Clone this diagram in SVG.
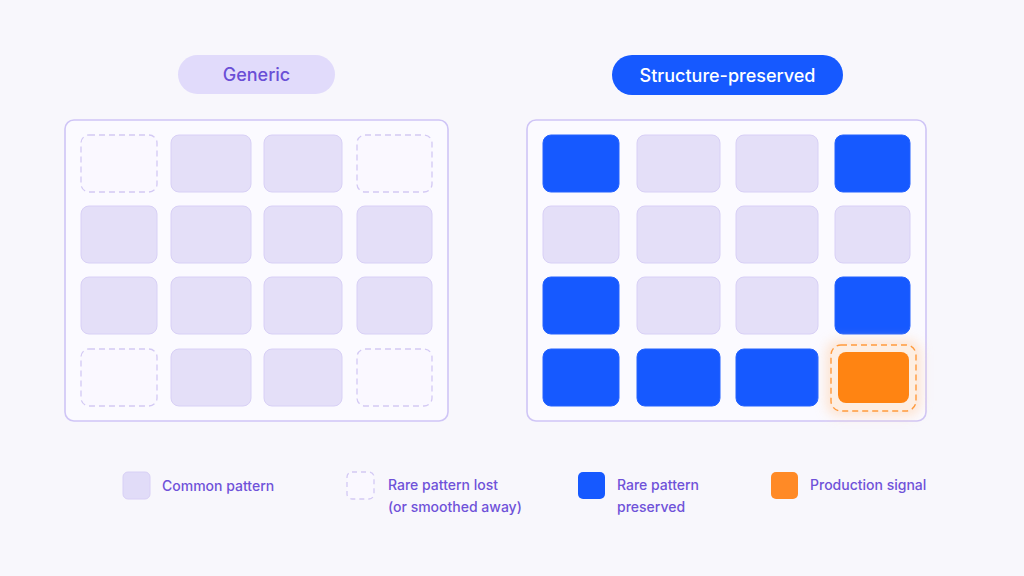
<svg xmlns="http://www.w3.org/2000/svg" width="1024" height="576" viewBox="0 0 1024 576">
<defs>
<style>
.panel{fill:#fbfaff;stroke:#cfc5f6;stroke-width:1.6}
.c{fill:#e4dff8;stroke:#d8d0f6;stroke-width:1}
.lost{fill:#faf8ff;stroke:#d3c9f4;stroke-width:1.3;stroke-dasharray:6 4}
.b{fill:#1659ff;stroke:#2462ff;stroke-width:1}
.t{font-family:Inter,"Liberation Sans",sans-serif;}
.lg{font-family:Inter,"Liberation Sans",sans-serif;font-size:14px;font-weight:500;fill:#6f52d9}
</style>
<filter id="glow" x="-50%" y="-50%" width="200%" height="200%"><feGaussianBlur stdDeviation="6"/></filter>
</defs>
<rect width="1024" height="576" fill="#f8f7fc"/>

<g id="pill-generic">
<rect x="178" y="55" width="157" height="39" rx="19.5" fill="#e1dbfb"/>
<text class="t" x="256.5" y="81" text-anchor="middle" font-size="18" font-weight="500" fill="#6a4fd6">Generic</text>
</g>
<g id="pill-structure">
<rect x="612" y="55" width="231" height="40" rx="20" fill="#1659ff"/>
<text class="t" x="727.5" y="82" text-anchor="middle" font-size="18" font-weight="500" fill="#ffffff">Structure-preserved</text>
</g>

<g id="panel-generic">
<rect class="panel" x="65" y="120" width="383" height="301" rx="9"/>
<rect class="lost" x="81" y="135" width="76" height="57" rx="8"/>
<rect class="c" x="171" y="135" width="80" height="57" rx="8"/>
<rect class="c" x="264" y="135" width="78" height="57" rx="8"/>
<rect class="lost" x="357" y="135" width="75" height="57" rx="8"/>
<rect class="c" x="81" y="206" width="76" height="57" rx="8"/>
<rect class="c" x="171" y="206" width="80" height="57" rx="8"/>
<rect class="c" x="264" y="206" width="78" height="57" rx="8"/>
<rect class="c" x="357" y="206" width="75" height="57" rx="8"/>
<rect class="c" x="81" y="277" width="76" height="57" rx="8"/>
<rect class="c" x="171" y="277" width="80" height="57" rx="8"/>
<rect class="c" x="264" y="277" width="78" height="57" rx="8"/>
<rect class="c" x="357" y="277" width="75" height="57" rx="8"/>
<rect class="lost" x="81" y="349" width="76" height="57" rx="8"/>
<rect class="c" x="171" y="349" width="80" height="57" rx="8"/>
<rect class="c" x="264" y="349" width="78" height="57" rx="8"/>
<rect class="lost" x="357" y="349" width="75" height="57" rx="8"/>
</g>

<g id="panel-structure">
<rect class="panel" x="527" y="120" width="399" height="301" rx="9"/>
<rect class="b" x="543" y="135" width="76" height="57" rx="8"/>
<rect class="c" x="637" y="135" width="83" height="57" rx="8"/>
<rect class="c" x="736" y="135" width="82" height="57" rx="8"/>
<rect class="b" x="835" y="135" width="75" height="57" rx="8"/>
<rect class="c" x="543" y="206" width="76" height="57" rx="8"/>
<rect class="c" x="637" y="206" width="83" height="57" rx="8"/>
<rect class="c" x="736" y="206" width="82" height="57" rx="8"/>
<rect class="c" x="835" y="206" width="75" height="57" rx="8"/>
<rect class="b" x="543" y="277" width="76" height="57" rx="8"/>
<rect class="c" x="637" y="277" width="83" height="57" rx="8"/>
<rect class="c" x="736" y="277" width="82" height="57" rx="8"/>
<rect class="b" x="835" y="277" width="75" height="57" rx="8"/>
<rect class="b" x="543" y="349" width="76" height="57" rx="8"/>
<rect class="b" x="637" y="349" width="83" height="57" rx="8"/>
<rect class="b" x="736" y="349" width="82" height="57" rx="8"/>
<g id="signal">
<rect x="826" y="340" width="95" height="76" rx="13" fill="#ffd3ad" opacity="0.55" filter="url(#glow)"/>
<rect x="831" y="345" width="85" height="66" rx="10" fill="#fdeee2" stroke="#ff9a3c" stroke-width="1.4" stroke-dasharray="6 4"/>
<rect x="838" y="352" width="71" height="51" rx="8" fill="#ff8412"/>
</g>
</g>

<g id="legend">
<g id="lg-common">
<rect x="123" y="472" width="27" height="27" rx="5" fill="#e1dcf8" stroke="#d8d0f6"/>
<text class="lg" x="162" y="491">Common pattern</text>
</g>
<g id="lg-lost">
<rect x="347" y="472" width="27" height="27" rx="5" fill="#faf8ff" stroke="#d3c9f4" stroke-width="1.3" stroke-dasharray="5 4"/>
<text class="lg" x="388" y="490">Rare pattern lost</text>
<text class="lg" x="388" y="512">(or smoothed away)</text>
</g>
<g id="lg-preserved">
<rect x="578" y="472" width="27" height="27" rx="5" fill="#1659ff"/>
<text class="lg" x="617" y="490">Rare pattern</text>
<text class="lg" x="617" y="512">preserved</text>
</g>
<g id="lg-signal">
<rect x="771" y="472" width="27" height="27" rx="5" fill="#ff8a26"/>
<text class="lg" x="810" y="490">Production signal</text>
</g>
</g>
</svg>
